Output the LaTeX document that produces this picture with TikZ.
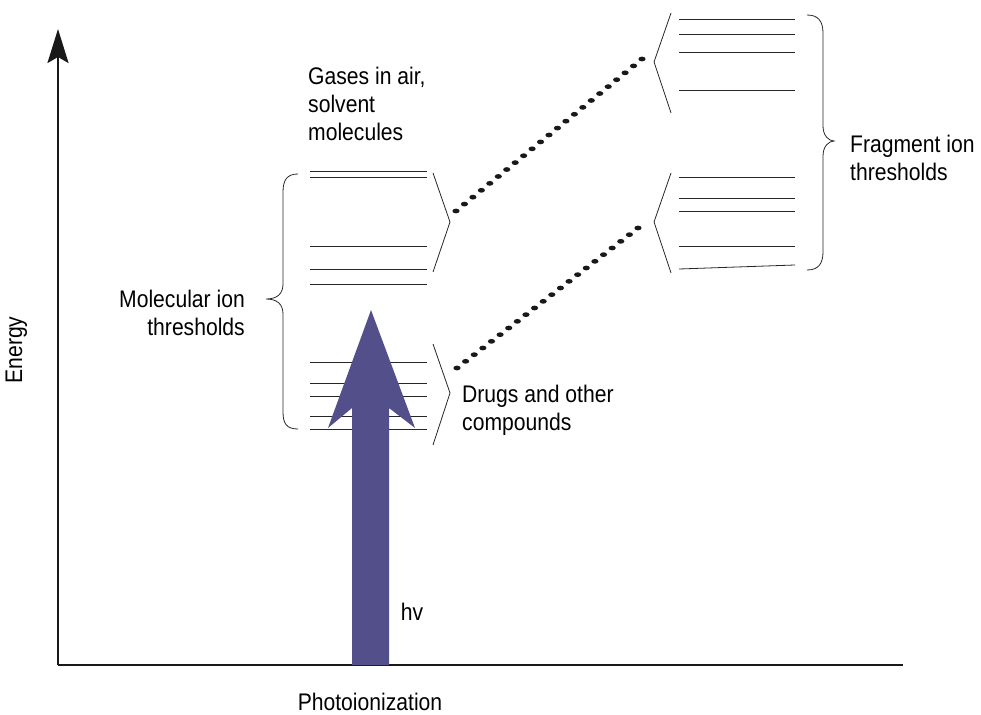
\documentclass[tikz,border=0pt]{standalone}
\usepackage{fontspec}
\setmainfont{Liberation Sans}[FakeStretch=0.88]
\usetikzlibrary{arrows.meta,calc}
\definecolor{photon}{RGB}{83,79,139}
\tikzset{
  lbl/.style={font=\fontsize{24}{28}\selectfont, inner sep=0pt},
  level/.style={line width=0.8pt, black!85},
  bracket/.style={line width=0.8pt, black!85},
  brace/.style={line width=0.8pt, black!85},
  axis/.style={line width=2.4pt, black!90},
  dotfill/.style={fill=black!90},
}
\begin{document}
\begin{tikzpicture}[x=1pt,y=-1pt]
\useasboundingbox (0,0) rectangle (981,714);

% axes
\coordinate (origin) at (58,665);
\coordinate (ytop) at (58,29);
\coordinate (xend) at (903,665);
\draw[axis] (origin) -- (xend);
\draw[axis,-{Stealth[length=34pt,width=21pt,inset=6pt]}] (origin) -- (ytop);

% molecular ion levels (upper group)
\foreach \y in {171,177,246,269,284}
  \draw[level] (310,\y) -- (427,\y);
% molecular ion levels (lower group)
\foreach \y in {362,383,396,416,429}
  \draw[level] (310,\y) -- (427,\y);

% fragment levels (upper)
\foreach \y in {19,34,52,90}
  \draw[level] (679,\y) -- (795,\y);
% fragment levels (lower)
\foreach \y in {177,198,211,246}
  \draw[level] (679,\y) -- (795,\y);
\draw[level] (679,269) -- (795,265);

% angle brackets
\coordinate (gasTip) at (450,222);
\coordinate (drugTip) at (450,393);
\coordinate (fragUpTip) at (654,62);
\coordinate (fragLoTip) at (654,222);
\draw[bracket] (433,173) -- (gasTip) -- (433,272);
\draw[bracket] (433,344) -- (drugTip) -- (433,445);
\draw[bracket] (671,13) -- (fragUpTip) -- (671,113);
\draw[bracket] (671,173) -- (fragLoTip) -- (671,273);

% braces
\coordinate (molTip) at (266,299);
\draw[brace] (298,174) .. controls (287,174) and (283,180) .. (283,192)
  -- (283,284) .. controls (283,294) and (277,299) .. (molTip)
  .. controls (277,299) and (283,304) .. (283,314)
  -- (283,412) .. controls (283,424) and (287,429) .. (298,429);
\coordinate (fragTip) at (834,141);
\draw[brace] (807,15) .. controls (818,15) and (823,21) .. (823,33)
  -- (823,126) .. controls (823,136) and (829,141) .. (fragTip)
  .. controls (829,141) and (823,146) .. (823,156)
  -- (823,252) .. controls (823,264) and (818,270) .. (807,270);

% dotted connectors
\coordinate (d1s) at (456,211);
\coordinate (d1e) at (642,59);
\coordinate (d2s) at (457,368);
\coordinate (d2e) at (638,228);
\foreach \i in {0,...,22}
  \fill[dotfill] ($(d1s)!\i/22!(d1e)$) ellipse [x radius=3.6pt, y radius=2.4pt];
\foreach \i in {0,...,21}
  \fill[dotfill] ($(d2s)!\i/21!(d2e)$) ellipse [x radius=3.6pt, y radius=2.4pt];

% photon arrow
\fill[photon] (352,665) -- (352,408) -- (328,428) -- (371,310) -- (415,428)
  -- (389,408) -- (389,665) -- cycle;

% labels
\node[lbl, anchor=north west, align=left] (gas) at (308,67) {Gases in air,\\solvent\\molecules};
\node[lbl, anchor=north east, align=right] (mol) at (245,290) {Molecular ion\\thresholds};
\node[lbl, anchor=north west, align=left] (drug) at (462,385) {Drugs and other\\compounds};
\node[lbl, anchor=north west, align=left] (frag) at (850,135) {Fragment ion\\thresholds};
\node[lbl, anchor=base] (hv) at (412,620) {hv};
\node[lbl, anchor=base] (photo) at (370,710) {Photoionization};
\node[lbl, anchor=base, rotate=90] (energy) at (22,350) {Energy};
\end{tikzpicture}
\end{document}
